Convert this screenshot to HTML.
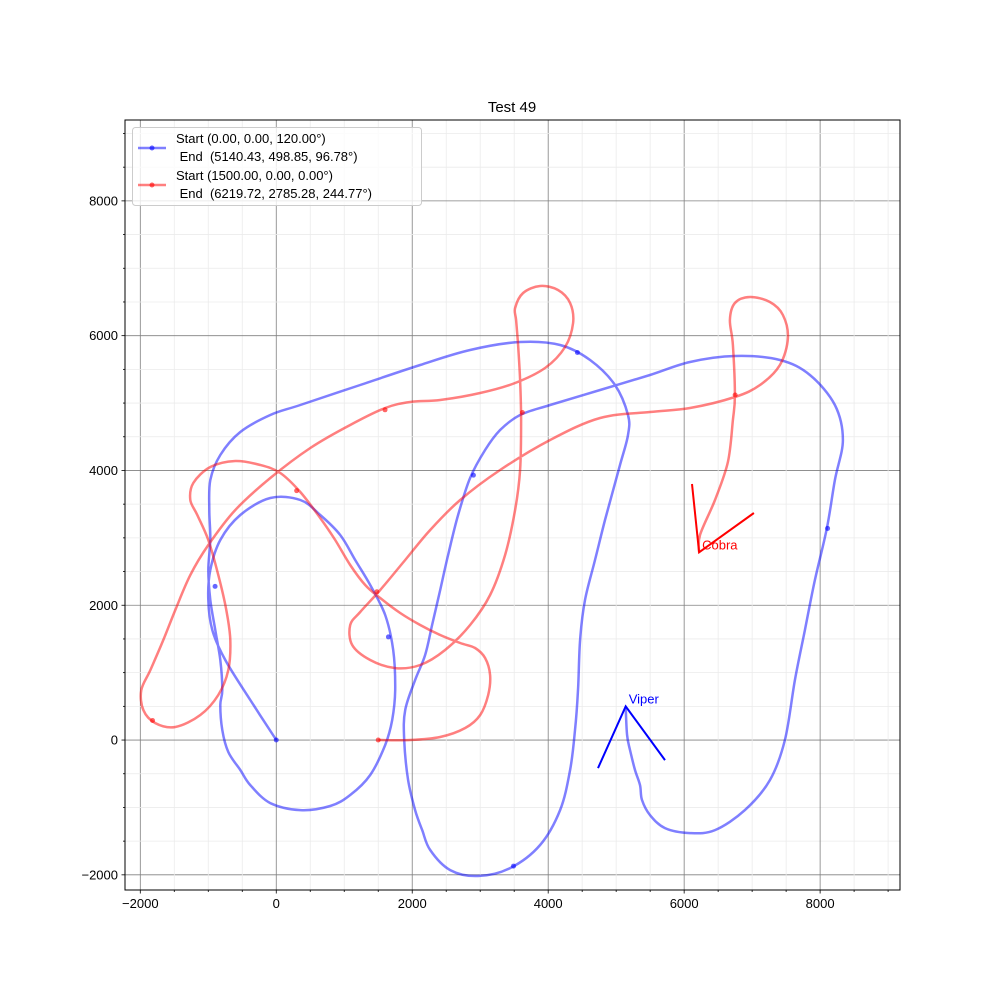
<!DOCTYPE html>
<html><head><meta charset="utf-8">
<style>
html,body{margin:0;padding:0;background:#fff;}
svg{display:block;font-family:"Liberation Sans","DejaVu Sans",sans-serif;}
</style></head>
<body>
<svg id="chart" width="1000" height="1000" viewBox="0 0 1000 1000">
<rect width="1000" height="1000" fill="#fff"/>
<g id="grid"></g>
<g id="series"></g>
<g id="axes"></g>
<text x="512" y="112" text-anchor="middle" font-size="15">Test 49</text>
<g id="legend">
<rect x="132.5" y="127.5" width="289" height="78" rx="3" fill="#fff" fill-opacity="0.8" stroke="#ccc"/>
<g>
<line x1="138" y1="148" x2="166" y2="148" stroke="#0000ff" stroke-opacity="0.5" stroke-width="2.5"/>
<circle cx="152" cy="148" r="2.5" fill="#0000ff" fill-opacity="0.6"/>
<text x="176" y="143" font-size="13">Start (0.00, 0.00, 120.00°)</text>
<text x="176" y="161" font-size="13" xml:space="preserve"> End  (5140.43, 498.85, 96.78°)</text>
</g>
<g>
<line x1="138" y1="185" x2="166" y2="185" stroke="#ff0000" stroke-opacity="0.5" stroke-width="2.5"/>
<circle cx="152" cy="185" r="2.5" fill="#ff0000" fill-opacity="0.6"/>
<text x="176" y="180" font-size="13">Start (1500.00, 0.00, 0.00°)</text>
<text x="176" y="198" font-size="13" xml:space="preserve"> End  (6219.72, 2785.28, 244.77°)</text>
</g>
</g>
</svg>
<script>
const blueX=[0,-382,-750,-941,-1000,-970,-823,-529,-88,353,647,941,1161,1382,1602,1720,1749,1705,1602,1382,1088,794,353,-88,-382,-529,-706,-794,-823,-794,-823,-897,-970,-1000,-970,-985,-970,-823,-529,-88,353,1235,2117,2852,3587,4175,4616,4983,5174,5174,5057,4836,4689,4542,4469,4439,4395,4322,4175,3881,3440,2969,2558,2264,2146,2043,1940,1882,1896,2043,2190,2293,2411,2528,2675,2852,3072,3293,3587,4028,4763,5498,6086,6747,7409,7850,8217,8335,8217,8100,7923,7776,7629,7482,7262,6894,6453,6086,5718,5498,5380,5351,5277,5204,5160,5140];
const blueY=[0,594,1187,1632,2078,2523,2968,3339,3591,3562,3339,3042,2671,2300,1855,1336,742,297,-74,-519,-816,-979,-1039,-935,-668,-445,-178,148,519,742,1187,1632,2078,2523,2968,3413,3858,4229,4571,4823,4971,5268,5565,5788,5906,5862,5639,5268,4823,4526,4081,3265,2671,2078,1484,742,148,-445,-1039,-1558,-1900,-2018,-1929,-1632,-1336,-1039,-594,0,445,890,1261,1707,2226,2745,3339,3888,4304,4600,4823,4971,5194,5417,5610,5699,5639,5417,4971,4452,3858,3146,2374,1632,890,0,-594,-1039,-1336,-1380,-1306,-1113,-890,-668,-445,-148,74,499];
const blueMarkX=[0,-900,1650,2900,4430,8110,3490];
const blueMarkY=[0,2280,1530,3930,5750,3140,-1870];
const redX=[1500,1970,2410,2779,3000,3117,3146,3072,2925,2705,2411,2117,1823,1529,1308,1088,867,647,353,59,-235,-603,-970,-1220,-1264,-1161,-1000,-853,-735,-676,-706,-853,-1117,-1485,-1779,-1955,-1985,-1852,-1661,-1485,-1264,-1000,-603,-88,500,1088,1602,1970,2411,2999,3513,3954,4248,4366,4322,4145,3881,3631,3513,3528,3557,3587,3601,3587,3513,3366,3146,2852,2484,2117,1749,1382,1117,1088,1235,1529,1896,2264,2705,3293,4028,4763,5498,6086,6747,7115,7409,7526,7453,7262,6968,6747,6673,6717,6747,6717,6644,6453,6233,6220];
const redY=[0,0,45,178,371,668,964,1217,1365,1440,1558,1707,1885,2107,2300,2597,2968,3295,3680,3962,4081,4140,4051,3814,3562,3339,2968,2448,1929,1484,1039,668,371,193,252,445,742,1039,1484,1929,2448,2894,3413,3888,4333,4675,4927,5016,5046,5149,5298,5521,5832,6188,6485,6678,6737,6633,6411,6232,5862,5342,4749,4007,3413,2745,2152,1707,1336,1113,1068,1187,1410,1707,1900,2226,2671,3116,3562,4007,4452,4779,4868,4927,5090,5268,5565,5966,6307,6500,6574,6485,6232,5862,5120,4749,4126,3562,3042,2785];
const redMarkX=[1500,-1820,300,1600,3620,1480,6750];
const redMarkY=[0,290,3700,4900,4860,2200,5120];
const viperX=[4733,5140,5718];
const viperY=[-416,499,-297];
const cobraX=[6115,6220,7026];
const cobraY=[3799,2785,3369];
const xTicks=[-2000,0,2000,4000,6000,8000];
const yTicks=[-2000,0,2000,4000,6000,8000];
const xMin=-2225,xMax=9175,yMin=-2225,yMax=9200;
const L=125,R=900,T=120,B=890;
const sx=v=>L+(v-xMin)/(xMax-xMin)*(R-L);
const sy=v=>B-(v-yMin)/(yMax-yMin)*(B-T);
const NS="http://www.w3.org/2000/svg";
function mk(tag,attrs,parent){const e=document.createElementNS(NS,tag);for(const k in attrs)e.setAttribute(k,attrs[k]);parent.appendChild(e);return e;}
const grid=document.getElementById('grid'),axes=document.getElementById('axes'),series=document.getElementById('series');
for(let v=-2000;v<=9000;v+=500){
 const major=v%2000===0;
 const gx=mk('line',{x1:sx(v),x2:sx(v),y1:T,y2:B,stroke:major?'#808080':'#ebebeb','stroke-width':0.8},grid);
 
 
 const gy=mk('line',{x1:L,x2:R,y1:sy(v),y2:sy(v),stroke:major?'#808080':'#ebebeb','stroke-width':0.8},grid);
 
 
 const tx=mk('line',{x1:sx(v),x2:sx(v),y1:B,y2:B+(major?3.5:2),stroke:'#000','stroke-width':0.8},axes);
 
 
 const ty=mk('line',{x1:L,x2:L-(major?3.5:2),y1:sy(v),y2:sy(v),stroke:'#000','stroke-width':0.8},axes);
 
 
}
xTicks.forEach(v=>{const t=mk('text',{x:sx(v),y:B+18,'text-anchor':'middle','font-size':13},axes);t.textContent=(v<0?'\u2212':'')+Math.abs(v);
 
 });
yTicks.forEach(v=>{const t=mk('text',{x:L-7,y:sy(v)+4.5,'text-anchor':'end','font-size':13},axes);t.textContent=(v<0?'\u2212':'')+Math.abs(v);
 
 });
const frame=mk('rect',{x:L,y:T,width:R-L,height:B-T,fill:'none',stroke:'#000','stroke-width':1},axes);


function smooth(xs,ys){
 const P=xs.map((x,i)=>[sx(x),sy(ys[i])]);
 let d='M'+P[0][0].toFixed(1)+','+P[0][1].toFixed(1);
 for(let i=0;i<P.length-1;i++){
  const p0=P[Math.max(0,i-1)],p1=P[i],p2=P[i+1],p3=P[Math.min(P.length-1,i+2)];
  const c1=[p1[0]+(p2[0]-p0[0])/6,p1[1]+(p2[1]-p0[1])/6];
  const c2=[p2[0]-(p3[0]-p1[0])/6,p2[1]-(p3[1]-p1[1])/6];
  d+='C'+c1[0].toFixed(1)+','+c1[1].toFixed(1)+' '+c2[0].toFixed(1)+','+c2[1].toFixed(1)+' '+p2[0].toFixed(1)+','+p2[1].toFixed(1);
 }
 return d;
}
function path(xs,ys,color,name){
 const p=mk('path',{d:smooth(xs,ys),fill:'none',stroke:color,'stroke-opacity':0.5,'stroke-width':2.5,'stroke-linejoin':'round'},series);
 
 
}
function marks(xs,ys,color,name){
 xs.forEach((x,i)=>{const c=mk('circle',{cx:sx(x),cy:sy(ys[i]),r:2.5,fill:color,'fill-opacity':0.6},series);
 
 });
}
path(blueX,blueY,'#0000ff','blue-path');
path(redX,redY,'#ff0000','red-path');
marks(blueMarkX,blueMarkY,'#0000ff','blue-marker');
marks(redMarkX,redMarkY,'#ff0000','red-marker');
function glyph(xs,ys,color,name){
 let d='';xs.forEach((x,i)=>{d+=(i?'L':'M')+sx(x).toFixed(1)+','+sy(ys[i]).toFixed(1);});
 const p=mk('path',{d:d,fill:'none',stroke:color,'stroke-width':2},series);
 
 
}
glyph(viperX,viperY,'#0000ff','viper-glyph');
glyph(cobraX,cobraY,'#ff0000','cobra-glyph');
const vl=mk('text',{x:sx(viperX[1])+3,y:sy(viperY[1])-3,'font-size':13,fill:'#0000ff'},series);vl.textContent='Viper';


const cl=mk('text',{x:sx(cobraX[1])+3,y:sy(cobraY[1])-3,'font-size':13,fill:'#ff0000'},series);cl.textContent='Cobra';


</script>
</body></html>
